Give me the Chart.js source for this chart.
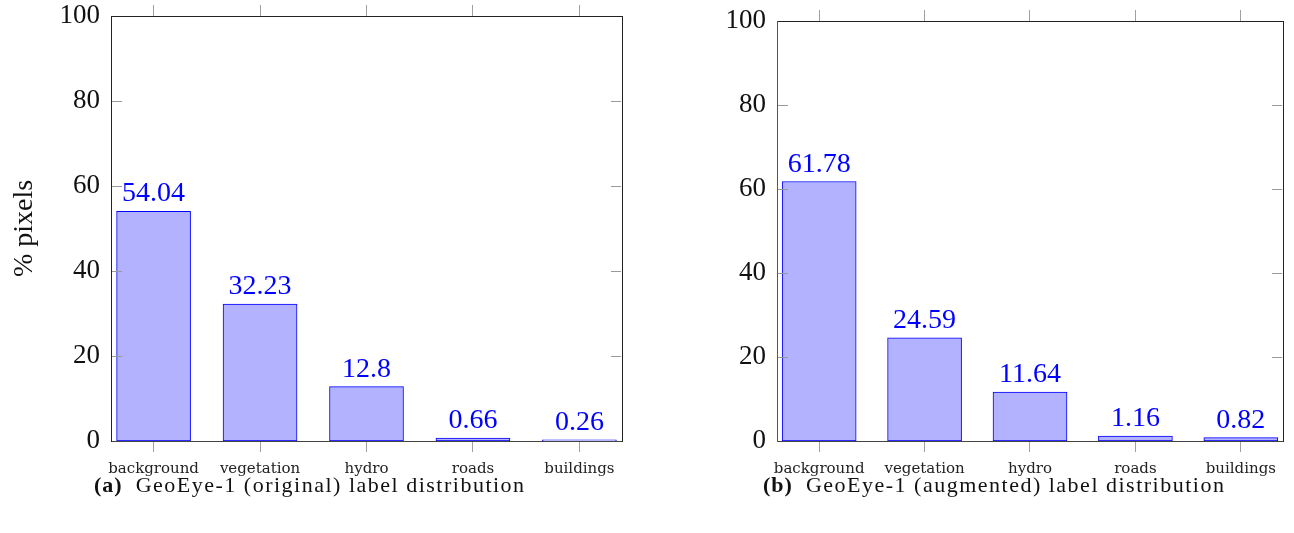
<!DOCTYPE html>
<html>
<head>
<meta charset="utf-8">
<script src="https://cdn.jsdelivr.net/npm/chart.js@4.4.1/dist/chart.umd.min.js"></script>
<style>
  html, body { margin: 0; padding: 0; background: #fff; }
  body { width: 1294px; height: 533px; position: relative; overflow: hidden; }
  canvas { position: absolute; top: 0; }
  .cap { position: absolute; top: 472px; font-family: "Liberation Serif", serif; font-size: 22px; letter-spacing: 1.5px; color: #111; white-space: nowrap; }
  .cap b { font-weight: bold; margin-right: 6px; letter-spacing: 1px; }
</style>
</head>
<body>
<canvas id="left" width="647" height="481" style="left:0px"></canvas>
<canvas id="right" width="647" height="481" style="left:647px"></canvas>
<div class="cap" style="left:94px"><b>(a)</b> GeoEye-1 (original) label distribution</div>
<div class="cap" style="left:763px"><b>(b)</b> GeoEye-1 (augmented) label distribution</div>
<script>
const categories = ['background', 'vegetation', 'hydro', 'roads', 'buildings'];
const originalValues = [54.04, 32.23, 12.8, 0.66, 0.26];
const augmentedValues = [61.78, 24.59, 11.64, 1.16, 0.82];
const yTicks = [0, 20, 40, 60, 80, 100];
const yAxisTitle = '% pixels';

const SERIF = '"Liberation Serif", "DejaVu Serif", serif';
const SMALL = '"DejaVu Serif", "Liberation Serif", serif';

const framePlugin = {
  id: 'framePlugin',
  afterDatasetsDraw(chart) {
    const ctx = chart.ctx;
    const a = chart.chartArea;
    const y = chart.scales.y;
    ctx.save();
    ctx.strokeStyle = '#9a9a9a';
    ctx.lineWidth = 1;
    yTicks.forEach(v => {
      if (v === y.min || v === y.max) return;
      const py = Math.round(y.getPixelForValue(v)) + 0.5;
      ctx.beginPath();
      ctx.moveTo(a.left + 1, py); ctx.lineTo(a.left + 11, py);
      ctx.moveTo(a.right - 11, py); ctx.lineTo(a.right - 1, py);
      ctx.stroke();
    });
    const meta = chart.getDatasetMeta(0);
    const vals = chart.data.datasets[0].data;
    ctx.fillStyle = '#0000ff';
    ctx.font = '28px ' + SERIF;
    ctx.textAlign = 'center';
    ctx.textBaseline = 'alphabetic';
    meta.data.forEach((bar, i) => {
      ctx.fillText(String(vals[i].y), bar.x, bar.y - 10);
    });
    ctx.restore();
  }
};

function noPad(s) { s.paddingTop = 0; s.paddingBottom = 0; s.paddingLeft = 0; s.paddingRight = 0; }

function makeChart(id, values, opt) {
  const data = values.map((v, i) => ({ x: i, y: v }));
  const xRange = { min: -0.4, max: 4.4 };
  return new Chart(document.getElementById(id), {
    type: 'bar',
    data: {
      datasets: [{
        data: data,
        backgroundColor: 'rgb(178,178,255)',
        borderColor: '#0000ff',
        borderWidth: 1,
        borderSkipped: false,
        barThickness: 74
      }]
    },
    options: {
      responsive: false,
      animation: false,
      devicePixelRatio: 1,
      layout: { padding: { left: 0, right: opt.padRight, top: opt.padTop, bottom: 0 } },
      plugins: { legend: { display: false }, tooltip: { enabled: false } },
      scales: {
        x: {
          type: 'linear', position: 'bottom', min: xRange.min, max: xRange.max, offset: false,
          afterBuildTicks: s => { s.ticks = categories.map((c, i) => ({ value: i })); },
          afterFit: s => { s.height = 40; noPad(s); },
          ticks: {
            callback: v => categories[v],
            font: { family: SMALL, size: 15 }, color: '#222', padding: 8,
            maxRotation: 0, autoSkip: false
          },
          grid: { display: true, offset: false, drawOnChartArea: false, drawTicks: true, tickLength: 11, color: '#a0a0a0' },
          border: { display: true, color: '#444', width: 1 }
        },
        xTop: {
          type: 'linear', position: 'top', min: xRange.min, max: xRange.max, offset: false,
          afterBuildTicks: s => { s.ticks = categories.map((c, i) => ({ value: i })); },
          afterFit: s => { s.height = 11; noPad(s); },
          ticks: { display: false },
          grid: { display: true, offset: false, drawOnChartArea: false, drawTicks: true, tickLength: 11, color: '#a0a0a0' },
          border: { display: true, color: '#222', width: 1 }
        },
        y: {
          type: 'linear', position: 'left', min: 0, max: 100,
          afterBuildTicks: s => { s.ticks = yTicks.map(v => ({ value: v })); },
          afterFit: s => { s.width = opt.yWidth; noPad(s); },
          ticks: { font: { family: SERIF, size: 27 }, color: '#111', padding: 11 },
          grid: { display: false, drawTicks: false },
          border: { display: true, color: opt.leftBorder, width: 1 },
          title: opt.title ? { display: true, text: yAxisTitle, font: { family: SERIF, size: 28 }, color: '#111', padding: { top: 8, bottom: 0 } } : { display: false }
        },
        yRight: {
          type: 'linear', position: 'right', min: 0, max: 100,
          afterFit: s => { s.width = 0; noPad(s); },
          ticks: { display: false },
          grid: { display: false, drawTicks: false },
          border: { display: true, color: '#222', width: 1 }
        }
      }
    },
    plugins: [framePlugin]
  });
}

makeChart('left', originalValues, { padRight: 25, padTop: 5, yWidth: 111, title: true, leftBorder: '#222' });
makeChart('right', augmentedValues, { padRight: 11, padTop: 10, yWidth: 130, title: false, leftBorder: '#555' });
</script>
</body>
</html>
